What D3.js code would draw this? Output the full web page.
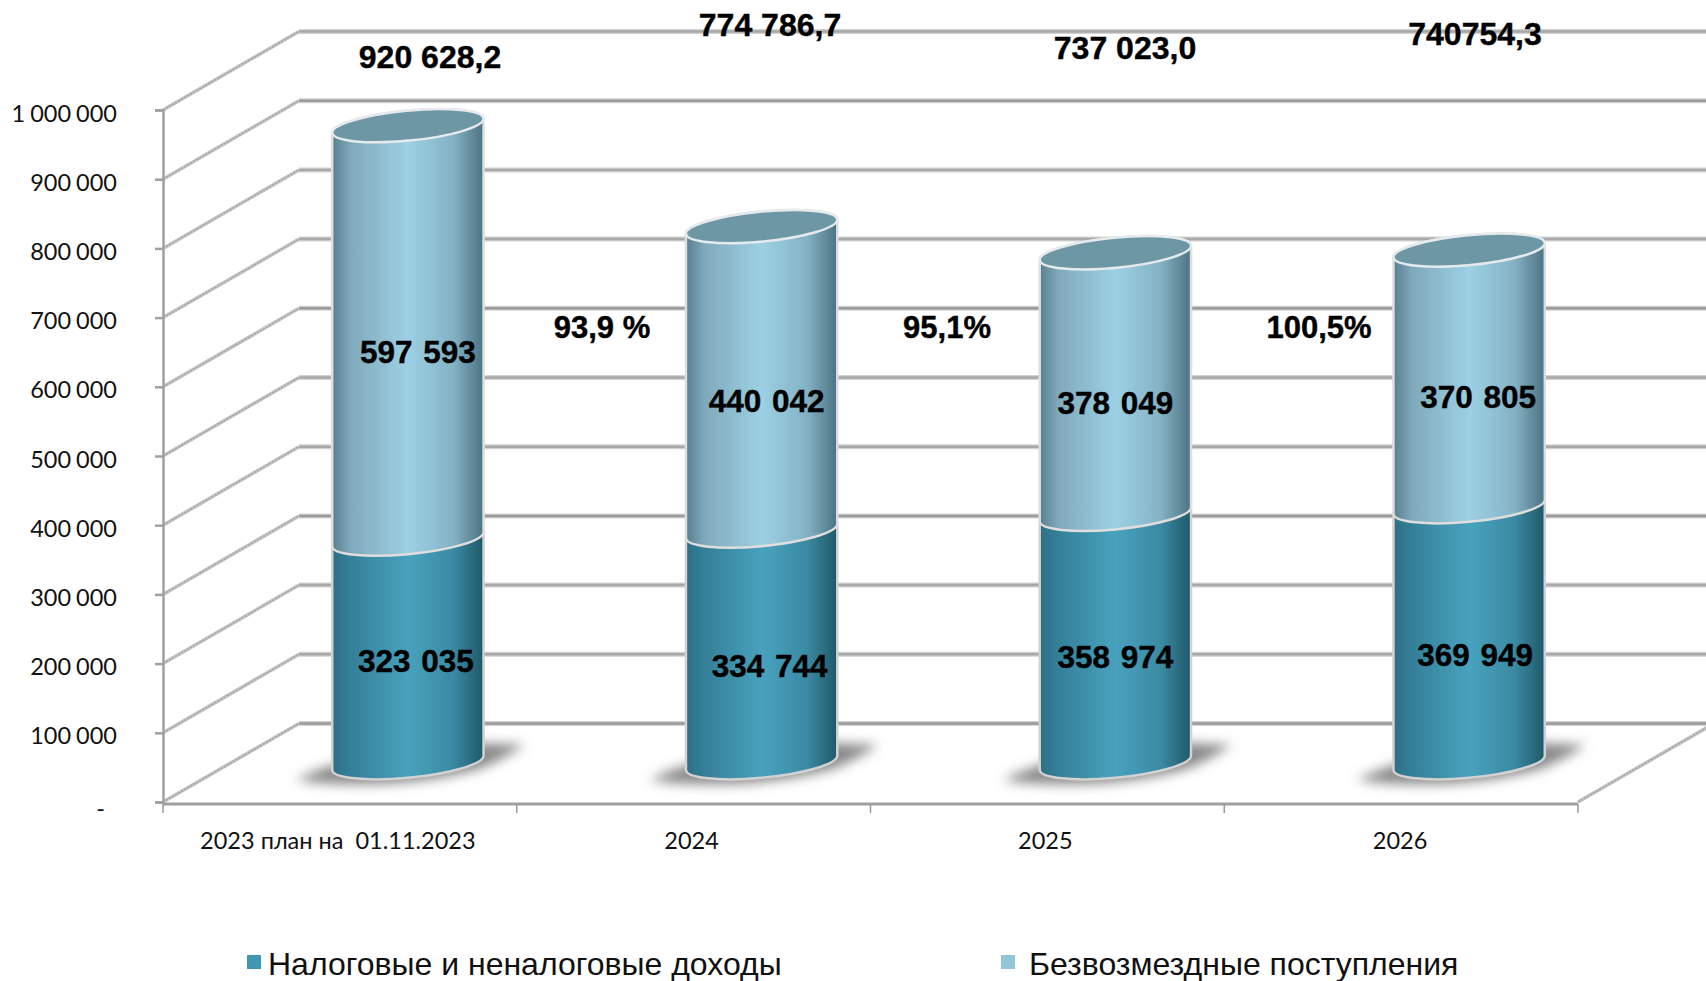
<!DOCTYPE html>
<html><head><meta charset="utf-8">
<script src="https://cdn.jsdelivr.net/npm/d3@7/dist/d3.min.js"></script>
<style>html,body{margin:0;padding:0;background:#fff}svg{display:block}</style>
</head><body><svg id="c" width="1706" height="981"></svg>
<script>
const categories = ["2023 план на  01.11.2023", "2024", "2025", "2026"];
const taxIncome = [323035, 334744, 358974, 369949];
const grants = [597593, 440042, 378049, 370805];
const taxLabels = ["323 035", "334 744", "358 974", "369 949"];
const grantLabels = ["597 593", "440 042", "378 049", "370 805"];
const totalLabels = ["920 628,2", "774 786,7", "737 023,0", "740754,3"];
const growthLabels = ["93,9 %", "95,1%", "100,5%"];
const legendLabels = ["Налоговые и неналоговые доходы", "Безвозмездные поступления"];
const yTicks = [0,100000,200000,300000,400000,500000,600000,700000,800000,900000,1000000];
const yTickLabels = ["-","100 000","200 000","300 000","400 000","500 000","600 000","700 000","800 000","900 000","1 000 000"];

const svg = d3.select("#c");
const x0 = 163, x1 = 1578, depthX = 136, depthY = 78.5;
const x = d3.scaleBand().domain(categories).range([x0, x1]).padding(0);
const y = d3.scaleLinear().domain([0, 1000000]).range([802, 110]);
const defs = svg.append("defs");
function grad(id, stops){
  const g = defs.append("linearGradient").attr("id", id);
  stops.forEach(([o,c]) => g.append("stop").attr("offset", o).attr("stop-color", c));
}
grad("lower", [[0,"#2d6f86"],[.12,"#357f98"],[.5,"#48a2bd"],[.8,"#3b8aa3"],[1,"#1f5868"]]);
grad("upper", [[0,"#567f90"],[.12,"#7fa9bb"],[.5,"#9dd0e4"],[.8,"#84b2c5"],[1,"#4c7282"]]);
const blur = defs.append("filter").attr("id","blur").attr("x","-30%").attr("y","-60%").attr("width","160%").attr("height","220%");
blur.append("feGaussianBlur").attr("stdDeviation", 6);

const grid = svg.append("g").attr("fill","none");
yTicks.forEach((v, i) => {
  const yf = y(v), yb = yf - depthY;
  const tone = (i % 3 === 0) ? "#9a9a9a" : "#a8a8a8";
  grid.append("path").attr("d", `M${x0+depthX},${yb}H1706`).attr("stroke","#d2d2d2").attr("stroke-width",5);
  grid.append("path").attr("d", `M${x0+depthX},${yb}H1706`).attr("stroke",tone).attr("stroke-width",2.5);
  grid.append("path").attr("d", `M${x0},${yf}L${x0+depthX},${yb}`).attr("stroke","#c4c4c4").attr("stroke-width",3.5);
  grid.append("path").attr("d", `M${x0},${yf}L${x0+depthX},${yb}`).attr("stroke","#a6a6a6").attr("stroke-width",1.5).attr("stroke-dasharray","2 1.5");
});
grid.append("path").attr("d", `M${x0+1415},${y(0)}L${x0+1415+depthX},${y(0)-depthY}`).attr("stroke","#c4c4c4").attr("stroke-width",3.5);
grid.append("path").attr("d", `M${x0+1415},${y(0)}L${x0+1415+depthX},${y(0)-depthY}`).attr("stroke","#a6a6a6").attr("stroke-width",1.5).attr("stroke-dasharray","2 1.5");

// axes
const yAxis = d3.axisLeft(y).tickValues(yTicks).tickFormat((d,i)=>yTickLabels[i]).tickSize(8).tickPadding(0);
const ay = svg.append("g").attr("transform",`translate(${x0},0)`).call(yAxis);
ay.selectAll("path,line").attr("stroke","#a0a0a0").attr("stroke-width",2.5);
ay.selectAll("text").attr("font-family","Lato").attr("font-size",23.5).attr("word-spacing",-1).attr("fill","#111").attr("x",-46).attr("dy","0.47em");
ay.selectAll(".tick").filter(d=>d===0).select("text").attr("x",-58).attr("dy","0.6em");

const xAxis = d3.axisBottom(x).tickValues([]).tickSizeOuter(0);
const ax = svg.append("g").attr("transform",`translate(0,${y(0)+2})`).call(xAxis);
ax.selectAll("path").attr("stroke","#a0a0a0").attr("stroke-width",3).attr("d",`M${x0},0H${x0+1415}`);
const catStep = 1415/4;
d3.range(5).forEach(i => ax.append("line").attr("x1",x0+i*catStep).attr("x2",x0+i*catStep).attr("y1",0).attr("y2",9).attr("stroke","#9a9a9a").attr("stroke-width",1.5));
const catNudge = [-2, -2, -2, -1];
categories.forEach((c,i) => svg.append("text").attr("x",x0+(i+.5)*catStep+catNudge[i]).attr("y",849)
  .style("white-space","pre")
  .attr("text-anchor","middle").attr("font-family","Lato").attr("font-size",23.5).attr("fill","#111").text(c));

// cylinders
const a = 76, b = 15, theta = -5.5 * Math.PI/180;
const tT = Math.atan2(-b*Math.sin(theta), a*Math.cos(theta));
const tanX = a*Math.cos(tT)*Math.cos(theta) - b*Math.sin(tT)*Math.sin(theta);
const tanY = a*Math.cos(tT)*Math.sin(theta) + b*Math.sin(tT)*Math.cos(theta);
const rot = theta*180/Math.PI;
const centers = categories.map((c,i)=> x0+(i+.5)*catStep + depthX/2);
const baseOffset = depthY/2;
function body(cx, vLow, vHigh){
  const yl = y(vLow)-baseOffset, yh = y(vHigh)-baseOffset;
  return `M${cx-tanX},${yh-tanY}L${cx-tanX},${yl-tanY}`+
    `A${a},${b} ${rot} 0 0 ${cx+tanX},${yl+tanY}L${cx+tanX},${yh+tanY}`+
    `A${a},${b} ${rot} 0 0 ${cx-tanX},${yh-tanY}Z`;
}
const cyl = svg.append("g");
centers.forEach((cx,i) => {
  const yb = y(0)-baseOffset;
  cyl.append("path").attr("filter","url(#blur)").attr("fill","#888888")
    .attr("d",`M${cx-112},${yb+17}Q${cx-90},${yb+6} ${cx-60},${yb-2}L${cx+60},${yb-20}L${cx+116},${yb-18}Q${cx+100},${yb-6} ${cx+72},${yb+6}Q${cx+30},${yb+18} ${cx-20},${yb+21}Q${cx-80},${yb+23} ${cx-112},${yb+17}Z`);
});
centers.forEach((cx,i) => {
  const t = taxIncome[i], g = grants[i];
  cyl.append("path").attr("d",body(cx,0,t)).attr("fill","url(#lower)").attr("stroke","#d2d2d2").attr("stroke-width",2.5);
  cyl.append("path").attr("d",body(cx,t,t+g)).attr("fill","url(#upper)").attr("stroke","#dedede").attr("stroke-width",2.5);
  cyl.append("ellipse").attr("cx",cx).attr("cy",y(t+g)-baseOffset).attr("rx",a).attr("ry",b)
    .attr("transform",`rotate(${rot},${cx},${y(t+g)-baseOffset})`)
    .attr("fill","#6e97a6").attr("stroke","#e6eaec").attr("stroke-width",2.5);
});

// labels
function boldLabel(tx,ty,s,ws,fs){
  svg.append("text").attr("x",tx).attr("y",ty).attr("text-anchor","middle").attr("dominant-baseline","central")
    .attr("font-family","Liberation Sans").attr("font-weight","bold").attr("font-size",fs||32).attr("word-spacing",ws||0)
    .attr("fill","#000").attr("stroke","#000").attr("stroke-width",0.4).text(s);
}
const grantNudge = [[10,20],[5,22],[0,19],[9,19]];
const taxNudge = [[8,10],[8,19],[0,18],[6,20]];
centers.forEach((cx,i) => {
  const t=taxIncome[i], g=grants[i];
  const ym = y(t+g/2)-baseOffset, yl = y(t/2)-baseOffset;
  boldLabel(cx+grantNudge[i][0], ym+grantNudge[i][1], grantLabels[i], 2, 31.5);
  boldLabel(cx+taxNudge[i][0], yl+taxNudge[i][1], taxLabels[i], 2, 31.5);
});
const totalY = [57,25,48,34], totalX = [430,770,1125,1475];
totalLabels.forEach((s,i)=> boldLabel(totalX[i], totalY[i], s));
const growthX = [602,947,1319];
growthLabels.forEach((s,i)=> boldLabel(growthX[i], 327, s, 0, 31));

// legend
const swatch = ["#3f97b1","#93c6d9"], lx=[247,1001], tx=[268,1029];
legendLabels.forEach((s,i)=>{
  svg.append("rect").attr("x",lx[i]).attr("y",955).attr("width",14).attr("height",14).attr("fill",swatch[i]);
  svg.append("text").attr("x",tx[i]).attr("y",975).attr("font-family","Liberation Sans").attr("font-size",32).attr("fill","#111").text(s);
});
</script></body></html>
